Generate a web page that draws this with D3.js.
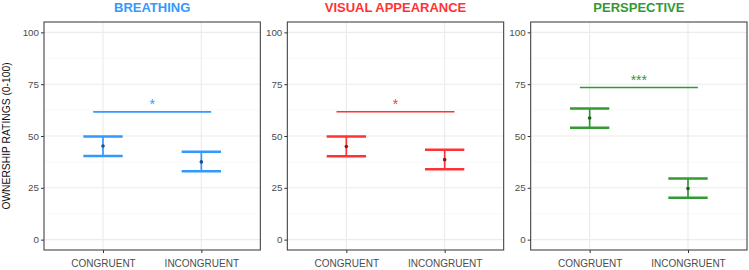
<!DOCTYPE html>
<html>
<head>
<meta charset="utf-8">
<script src="https://cdn.jsdelivr.net/npm/d3@7"></script>
<style>
  html, body { margin: 0; padding: 0; background: #fff; }
  svg { display: block; font-family: "Liberation Sans", Arial, sans-serif; }
</style>
</head>
<body>
<svg id="chart" width="749" height="270"></svg>
<script>
// ---- data ----
const panels = ["BREATHING", "VISUAL APPEARANCE", "PERSPECTIVE"];
const categories = ["CONGRUENT", "INCONGRUENT"];
const yTicks = [0, 25, 50, 75, 100];
const breathingMean = [45.2, 37.5];
const breathingLower = [40.4, 33.0];
const breathingUpper = [49.8, 42.4];
const visualMean = [44.9, 38.6];
const visualLower = [40.2, 33.9];
const visualUpper = [49.7, 43.4];
const perspectiveMean = [58.7, 24.7];
const perspectiveLower = [54.0, 20.2];
const perspectiveUpper = [63.3, 29.5];
const sigY = [61.6, 61.7, 73.4];
const sigLabels = ["*", "*", "***"];
const yTitle = "OWNERSHIP RATINGS (0-100)";

// ---- styles ----
const colors = ["#3399ff", "#ff3333", "#339933"];
const pointColors = ["#1f4e8c", "#8b1a1a", "#1f5a1f"];
const seriesMean = [breathingMean, visualMean, perspectiveMean];
const seriesLower = [breathingLower, visualLower, perspectiveLower];
const seriesUpper = [breathingUpper, visualUpper, perspectiveUpper];

const svg = d3.select("#chart");
const leftMargin = 44, rightEdge = 747, gap = 27;
const plotTop = 22, plotBottom = 250;
const pw = (rightEdge - leftMargin - 2 * gap) / 3;

const y = d3.scaleLinear().domain([-5, 105]).range([plotBottom, plotTop]);

svg.append("text")
  .attr("transform", `translate(9.5,${(plotTop + plotBottom) / 2}) rotate(-90)`)
  .attr("text-anchor", "middle")
  .attr("font-size", 10.3)
  .attr("fill", "#111")
  .text(yTitle);

panels.forEach((name, i) => {
  const x0 = leftMargin + i * (pw + gap);
  const g = svg.append("g").attr("transform", `translate(${x0},0)`);
  const x = d3.scalePoint().domain(categories).range([0, pw]).padding(0.6);
  const step = x.step();

  // minor grid
  const minor = d3.range(-12.5, 113, 25).filter(v => v > -5 && v < 105);
  g.selectAll(".minor").data(minor).enter().append("line")
    .attr("x1", 0).attr("x2", pw)
    .attr("y1", d => y(d)).attr("y2", d => y(d))
    .attr("stroke", "#f3f3f3").attr("stroke-width", 0.6);
  // major grid
  g.selectAll(".major").data(yTicks).enter().append("line")
    .attr("x1", 0).attr("x2", pw)
    .attr("y1", d => y(d)).attr("y2", d => y(d))
    .attr("stroke", "#ebebeb").attr("stroke-width", 1.1);
  g.selectAll(".vmajor").data(categories).enter().append("line")
    .attr("x1", d => x(d)).attr("x2", d => x(d))
    .attr("y1", plotTop).attr("y2", plotBottom)
    .attr("stroke", "#ebebeb").attr("stroke-width", 1.1);

  // axes
  const yAxis = d3.axisLeft(y).tickValues(yTicks).tickSize(3).tickPadding(2);
  const ya = g.append("g").call(yAxis);
  ya.select(".domain").remove();
  ya.selectAll("line").attr("stroke", "#333");
  ya.selectAll("text").attr("font-size", 9.8).attr("fill", "#4d4d4d")
    .attr("font-family", "Liberation Sans, Arial, sans-serif");

  const xAxis = d3.axisBottom(x).tickSize(3).tickPadding(7);
  const xa = g.append("g").attr("transform", `translate(0,${plotBottom})`).call(xAxis);
  xa.select(".domain").remove();
  xa.selectAll("line").attr("stroke", "#333");
  xa.selectAll("text").attr("font-size", 10).attr("fill", "#4d4d4d")
    .attr("font-family", "Liberation Sans, Arial, sans-serif");

  // border
  g.append("rect").attr("x", 0).attr("y", plotTop).attr("width", pw).attr("height", plotBottom - plotTop)
    .attr("fill", "none").attr("stroke", "#444").attr("stroke-width", 1.1);

  // title
  g.append("text").attr("x", pw / 2).attr("y", 12)
    .attr("text-anchor", "middle").attr("font-size", 13).attr("font-weight", "bold")
    .attr("fill", colors[i]).text(name);

  // error bars
  const capHalf = step * 0.2;
  categories.forEach((c, j) => {
    const cx = x(c);
    const lo = seriesLower[i][j], hi = seriesUpper[i][j], m = seriesMean[i][j];
    g.append("line").attr("x1", cx).attr("x2", cx).attr("y1", y(lo)).attr("y2", y(hi))
      .attr("stroke", colors[i]).attr("stroke-width", 1.7);
    [lo, hi].forEach(v => {
      g.append("line").attr("x1", cx - capHalf).attr("x2", cx + capHalf)
        .attr("y1", y(v)).attr("y2", y(v))
        .attr("stroke", colors[i]).attr("stroke-width", 2.5);
    });
    g.append("circle").attr("cx", cx).attr("cy", y(m)).attr("r", 1.8)
      .attr("fill", pointColors[i]);
  });

  // significance
  const xa1 = x(categories[0]) - step * 0.1, xa2 = x(categories[1]) + step * 0.1;
  g.append("line").attr("x1", xa1).attr("x2", xa2)
    .attr("y1", y(sigY[i])).attr("y2", y(sigY[i]))
    .attr("stroke", colors[i]).attr("stroke-width", 1.7);
  g.append("text").attr("x", (x(categories[0]) + x(categories[1])) / 2)
    .attr("y", y(sigY[i]) - 2.5)
    .attr("text-anchor", "middle").attr("font-size", 14)
    .attr("fill", colors[i]).text(sigLabels[i]);
});
</script>
</body>
</html>
